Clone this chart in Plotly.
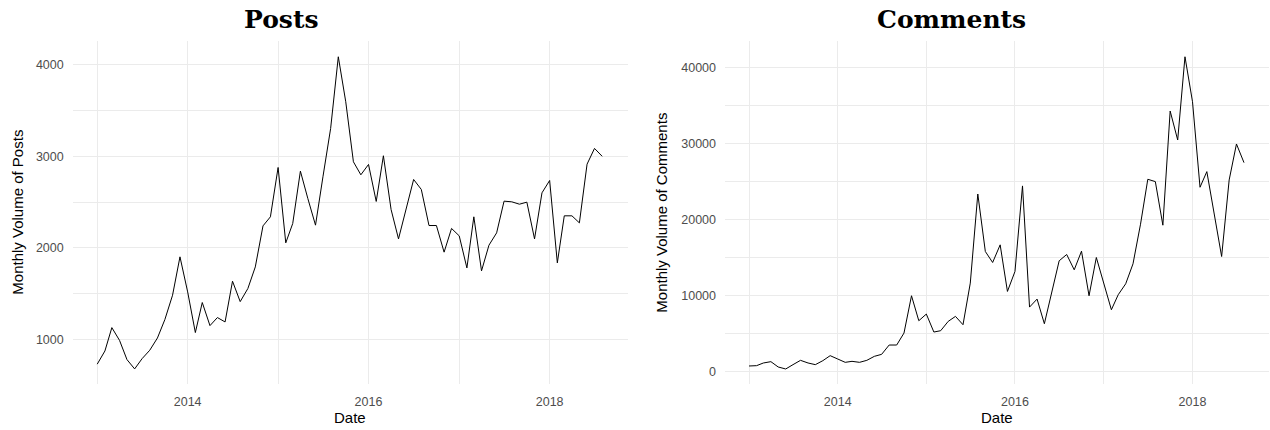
import pandas as pd
import plotly.graph_objects as go

# ---- data ----
dates = pd.date_range("2013-01-01", periods=68, freq="MS")

posts = [730, 874, 1129, 990, 780, 678, 790, 882, 1016, 1217, 1483, 1902,
         1519, 1075, 1403, 1151, 1239, 1191, 1636, 1413, 1556, 1792, 2240, 2339,
         2878, 2055, 2266, 2838, 2539, 2248, 2776, 3304, 4087, 3596, 2940, 2798,
         2911, 2507, 3006, 2419, 2098, 2412, 2747, 2638, 2244, 2244, 1953, 2212,
         2131, 1781, 2339, 1749, 2029, 2164, 2510, 2503, 2477, 2499, 2098, 2601,
         2736, 1836, 2350, 2350, 2273, 2914, 3086, 3000]

comments = [788, 831, 1180, 1357, 656, 394, 963, 1532, 1180, 963, 1488, 2144,
            1707, 1269, 1400, 1269, 1532, 2057, 2319, 3545, 3545, 5120, 10021, 6739,
            7614, 5251, 5426, 6652, 7308, 6214, 11684, 23400, 15841, 14397, 16716, 10590,
            13216, 24462, 8533, 9583, 6345, 10502, 14616, 15447, 13434, 15885, 10021, 15053,
            11553, 8183, 10152, 11596, 14222, 19429, 25337, 25031, 19298, 34308, 30501, 41441,
            35533, 24287, 26343, 20786, 15184, 25249, 29975, 27525]

titles = ["Posts", "Comments"]
y_titles = ["Monthly Volume of Posts", "Monthly Volume of Comments"]
x_title = "Date"

W, H = 1270, 430
GRID = "#EBEBEB"
TICKC = "#4D4D4D"
SANS = "Liberation Sans, Arial, sans-serif"
SERIF = "DejaVu Serif, serif"

def px(x):
    return x / W

def py(y):
    return 1 - y / H

fig = go.Figure()
fig.add_trace(go.Scatter(x=dates, y=posts, mode="lines",
                         line=dict(color="black", width=1), xaxis="x", yaxis="y",
                         showlegend=False))
fig.add_trace(go.Scatter(x=dates, y=comments, mode="lines",
                         line=dict(color="black", width=1), xaxis="x2", yaxis="y2",
                         showlegend=False))

ydom = [py(384.3), py(41.2)]
xrange_ = ["2012-09-24", "2018-11-12"]

def xaxis(domain, anchor):
    return dict(domain=domain, anchor=anchor, type="date", range=xrange_,
                tick0="2014-01-01", dtick="M24", tickformat="%Y",
                showgrid=True, gridcolor=GRID, gridwidth=1.1,
                minor=dict(dtick="M12", tick0="2013-01-01", showgrid=True,
                           gridcolor=GRID, gridwidth=0.7),
                zeroline=False, showline=False, ticks="",
                tickfont=dict(family=SANS, size=12.5, color=TICKC),
                ticklabelstandoff=8)

def yaxis(domain, anchor, rng, dtick, tick0):
    return dict(domain=domain, anchor=anchor, range=rng, dtick=dtick, tick0=tick0,
                showgrid=True, gridcolor=GRID, gridwidth=1.1,
                minor=dict(dtick=dtick / 2, tick0=tick0, showgrid=True,
                           gridcolor=GRID, gridwidth=0.7),
                zeroline=False, showline=False, ticks="",
                tickfont=dict(family=SANS, size=12.5, color=TICKC),
                ticklabelstandoff=8, tickformat="d")

fig.update_layout(
    width=W, height=H,
    margin=dict(l=0, r=0, t=0, b=0),
    paper_bgcolor="white", plot_bgcolor="white",
    xaxis=xaxis([px(72.7), px(627.7)], "y"),
    yaxis=yaxis(ydom, "x", [510, 4257], 1000, 0),
    xaxis2=xaxis([px(725), px(1269)], "y2"),
    yaxis2=yaxis(ydom, "x2", [-1620, 43490], 10000, 0),
)

ann = []
# titles
for t, xc in zip(titles, [281, 951.5]):
    ann.append(dict(text="<b>%s</b>" % t, x=px(xc), y=py(20), xref="paper", yref="paper",
                    xanchor="center", yanchor="middle", showarrow=False,
                    font=dict(family=SERIF, size=25, color="black")))
# x titles
for xc in [350.2, 997]:
    ann.append(dict(text=x_title, x=px(xc), y=py(417), xref="paper", yref="paper",
                    xanchor="center", yanchor="middle", showarrow=False,
                    font=dict(family=SANS, size=15, color="black")))
# y titles
for t, xc in zip(y_titles, [18, 662]):
    ann.append(dict(text=t, x=px(xc), y=py(212.7), xref="paper", yref="paper",
                    xanchor="center", yanchor="middle", showarrow=False, textangle=-90,
                    font=dict(family=SANS, size=15, color="black")))
fig.update_layout(annotations=ann)

fig.write_html("out.html",
               config={"displayModeBar": False},
               post_script="document.body.style.margin='0';document.body.style.padding='0';")
